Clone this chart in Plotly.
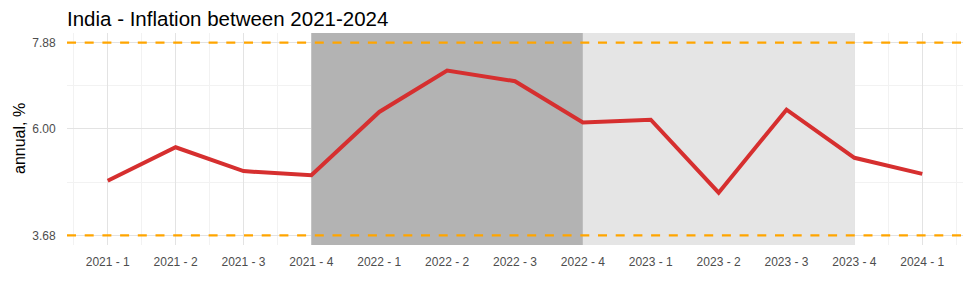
import plotly.graph_objects as go

quarters = ["2021 - 1", "2021 - 2", "2021 - 3", "2021 - 4",
            "2022 - 1", "2022 - 2", "2022 - 3", "2022 - 4",
            "2023 - 1", "2023 - 2", "2023 - 3", "2023 - 4", "2024 - 1"]
inflation = [4.87, 5.60, 5.08, 4.99, 6.37, 7.27, 7.04, 6.14,
             6.20, 4.61, 6.42, 5.37, 5.02]
upper_band = 7.88
lower_band = 3.68
y_ticks = [3.68, 6.00, 7.88]
y_tick_labels = ["3.68", "6.00", "7.88"]
dark_period = ("2021 - 4", "2022 - 4")
light_period = ("2022 - 4", "2023 - 4")

xi = list(range(len(quarters)))
idx = {q: i for i, q in enumerate(quarters)}

n = len(quarters)
xpad = 0.05 * (n - 1)
x_range = [-xpad, (n - 1) + xpad]
ylo, yhi = lower_band, upper_band
ypad = 0.05 * (yhi - ylo)
y_range = [ylo - ypad, yhi + ypad]

fig = go.Figure()


def add_rect(period, color):
    a, b = idx[period[0]], idx[period[1]]
    fig.add_trace(go.Scatter(
        x=[a, b, b, a, a],
        y=[y_range[0], y_range[0], y_range[1], y_range[1], y_range[0]],
        mode="lines", fill="toself", fillcolor=color,
        line=dict(width=0, color=color),
        hoverinfo="skip", showlegend=False))


add_rect(dark_period, "#B3B3B3")
add_rect(light_period, "#E5E5E5")

for yv in (upper_band, lower_band):
    fig.add_trace(go.Scatter(
        x=x_range, y=[yv, yv], mode="lines",
        line=dict(color="#FFA500", width=2.2, dash="9px,8.7px"),
        hoverinfo="skip", showlegend=False))

fig.add_trace(go.Scatter(
    x=xi, y=inflation, mode="lines",
    line=dict(color="#D62F2F", width=4),
    hoverinfo="skip", showlegend=False))

minor_x = [i - 0.5 for i in range(n + 1)]
minor_y = [(y_ticks[0] + y_ticks[1]) / 2, (y_ticks[1] + y_ticks[2]) / 2]

fig.update_layout(
    width=975, height=300,
    margin=dict(l=67, r=12, t=33, b=55),
    paper_bgcolor="white", plot_bgcolor="white",
    font=dict(family="Liberation Sans, Arial, sans-serif", color="#4D4D4D"),
    title=dict(text="India - Inflation between 2021-2024",
               font=dict(size=20.5, color="black"),
               x=67 / 975, xref="container", xanchor="left",
               y=1 - 19 / 300, yref="container", yanchor="middle"),
    annotations=[dict(text="annual, %", textangle=-90, showarrow=False,
                      xref="paper", yref="paper", x=(19 - 67) / 896, y=0.5,
                      xanchor="center", yanchor="middle",
                      font=dict(size=16, color="black"))],
    xaxis=dict(range=x_range, tickmode="array", tickvals=xi, ticktext=quarters,
               showgrid=True, gridcolor="#E3E3E3", gridwidth=1.2,
               zeroline=False, showline=False,
               ticks="outside", ticklen=6, tickcolor="rgba(0,0,0,0)",
               tickfont=dict(size=12, color="#4D4D4D"),
               minor=dict(tickmode="array", tickvals=minor_x, showgrid=True,
                          gridcolor="#F2F2F2", gridwidth=0.8),
               fixedrange=True),
    yaxis=dict(range=y_range, tickmode="array", tickvals=y_ticks,
               ticktext=y_tick_labels,
               showgrid=True, gridcolor="#E3E3E3", gridwidth=1.2,
               zeroline=False, showline=False,
               ticks="outside", ticklen=8, tickcolor="rgba(0,0,0,0)",
               tickfont=dict(size=12, color="#4D4D4D"),
               minor=dict(tickmode="array", tickvals=minor_y, showgrid=True,
                          gridcolor="#F2F2F2", gridwidth=0.8),
               fixedrange=True),
)

fig.write_html("out.html")
